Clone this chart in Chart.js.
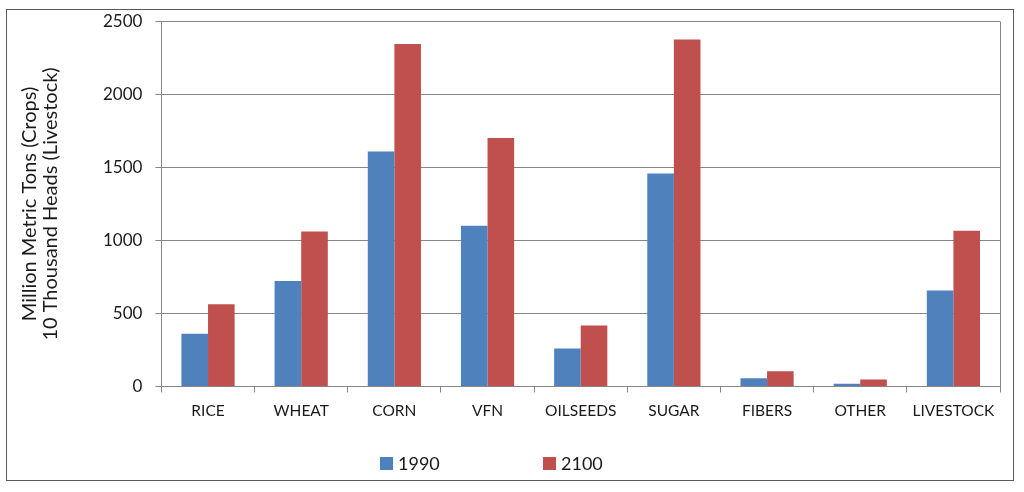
<!DOCTYPE html>
<html>
<head>
<meta charset="utf-8">
<script src="https://cdn.jsdelivr.net/npm/chart.js@4"></script>
<style>
  body { margin: 0; background: #fff; }
  #wrap { width: 1024px; height: 492px; position: relative; }
</style>
</head>
<body>
<div id="wrap"><canvas id="myChart"></canvas></div>
<script>
// Data
var categories = ['RICE', 'WHEAT', 'CORN', 'VFN', 'OILSEEDS', 'SUGAR', 'FIBERS', 'OTHER', 'LIVESTOCK'];
var values1990 = [360, 722, 1610, 1100, 260, 1458, 55, 18, 657];
var values2100 = [563, 1061, 2345, 1702, 417, 2377, 103, 48, 1067];
var yTicks = [0, 500, 1000, 1500, 2000, 2500];

var textColor = '#1a1a1a';
var lineColor = '#868686';

// Frame round the whole chart + right edge of the plot area
var framePlugin = {
    id: 'frame',
    beforeDraw: function (chart) {
        var ctx = chart.ctx;
        ctx.save();
        ctx.fillStyle = '#fff';
        ctx.fillRect(0, 0, chart.width, chart.height);
        ctx.strokeStyle = '#595959';
        ctx.lineWidth = 1;
        ctx.strokeRect(6.5, 9.5, chart.width - 17, chart.height - 21);
        ctx.restore();
    },
    afterDraw: function (chart) {
        var ctx = chart.ctx;
        var area = chart.chartArea;
        ctx.save();
        ctx.strokeStyle = lineColor;
        ctx.lineWidth = 1;
        ctx.beginPath();
        ctx.moveTo(Math.round(area.right) + 0.5, area.top);
        ctx.lineTo(Math.round(area.right) + 0.5, area.bottom);
        ctx.stroke();
        ctx.restore();
    }
};

// Legend spread out like the original (wide gap between items)
var legendPlugin = {
    id: 'wideLegend',
    afterDraw: function (chart) {
        var ctx = chart.ctx;
        var x = 380;
        var y = 463;
        ctx.save();
        ctx.font = '18px Lato';
        ctx.textBaseline = 'middle';
        ctx.textAlign = 'left';
        chart.data.datasets.forEach(function (ds, i) {
            var left = x + i * 163;
            ctx.fillStyle = ds.backgroundColor;
            ctx.fillRect(left, y - 6, 13, 13);
            ctx.fillStyle = textColor;
            ctx.fillText(ds.label, left + 18, y + 1);
        });
        ctx.restore();
    }
};

var ctx = document.getElementById('myChart').getContext('2d');
var myChart = new Chart(ctx, {
    type: 'bar',
    data: {
        labels: categories,
        datasets: [{
            label: '1990',
            data: values1990,
            backgroundColor: '#4F81BD',
            borderWidth: 0
        },
        {
            label: '2100',
            data: values2100,
            backgroundColor: '#C0504D',
            borderWidth: 0
        }]
    },
    options: {
        responsive: true,
        maintainAspectRatio: false,
        animation: false,
        categoryPercentage: 0.571,
        barPercentage: 1.0,
        layout: {
            padding: { left: 19, right: 24, top: 9, bottom: 63 }
        },
        plugins: {
            legend: { display: false },
            tooltip: { enabled: false }
        },
        scales: {
            x: {
                grid: {
                    display: true,
                    drawOnChartArea: false,
                    drawTicks: true,
                    tickLength: 6,
                    color: lineColor
                },
                border: { color: lineColor },
                ticks: {
                    color: textColor,
                    padding: 9,
                    maxRotation: 0,
                    autoSkip: false,
                    font: { family: 'Lato', size: 15.5 }
                }
            },
            y: {
                min: 0,
                max: 2500,
                afterBuildTicks: function (axis) {
                    axis.ticks = yTicks.map(function (v) { return { value: v }; });
                },
                grid: {
                    color: lineColor,
                    tickLength: 6
                },
                border: { color: lineColor },
                ticks: {
                    color: textColor,
                    padding: 13,
                    font: { family: 'Lato', size: 17, lineHeight: 1.0 },
                    callback: function (value) { return String(value); }
                },
                title: {
                    display: true,
                    text: ['Million Metric Tons (Crops)', '10 Thousand Heads (Livestock)'],
                    color: textColor,
                    padding: { top: 0, bottom: 29 },
                    font: { family: 'Lato', size: 20, lineHeight: 1.05 }
                }
            }
        }
    },
    plugins: [framePlugin, legendPlugin]
});
</script>
</body>
</html>
